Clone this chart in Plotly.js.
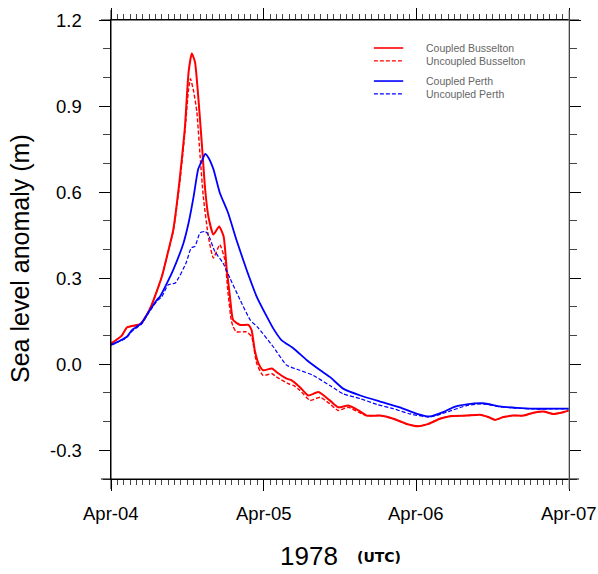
<!DOCTYPE html>
<html>
<head>
<meta charset="utf-8">
<script src="https://cdn.plot.ly/plotly-3.0.1.min.js"></script>
<style>html,body{margin:0;padding:0;background:#fff;}#chart{width:598px;height:574px;}</style>
</head>
<body>
<div id="chart"></div>
<script>
// Hours since 1978-04-04 00:00 UTC
var busCoupledHours = [0, 1.7, 2.5, 3.5, 4.6, 5.3, 6.4, 8.0, 8.8, 9.8, 10.8, 11.6, 12.2, 12.7, 13.2, 13.7, 14.3, 14.8, 15.3, 16.1, 17.0, 17.7, 18.2, 18.7, 19.2, 20.3, 21.6, 22.1, 22.6, 23.2, 23.9, 25.3, 26.0, 27.6, 28.4, 29.7, 31.0, 32.6, 34.4, 35.7, 37.3, 38.9, 40.2, 42.3, 44.4, 46.5, 48.3, 49.9, 51.7, 53.3, 55.9, 58.0, 59.3, 60.4, 61.7, 63.2, 64.8, 66.4, 68.0, 69.5, 71.1, 72];
var busCoupled = [0.072, 0.100, 0.128, 0.134, 0.140, 0.160, 0.207, 0.306, 0.376, 0.470, 0.645, 0.820, 1.019, 1.083, 1.054, 0.937, 0.762, 0.610, 0.516, 0.452, 0.480, 0.446, 0.330, 0.236, 0.154, 0.137, 0.137, 0.119, 0.049, 0.002, -0.021, -0.015, -0.027, -0.050, -0.056, -0.080, -0.109, -0.097, -0.126, -0.150, -0.144, -0.161, -0.179, -0.179, -0.190, -0.208, -0.216, -0.208, -0.190, -0.181, -0.179, -0.176, -0.184, -0.194, -0.184, -0.179, -0.179, -0.169, -0.165, -0.173, -0.167, -0.161];

var busUncoupledHours = [0, 1.7, 2.5, 3.5, 4.6, 5.3, 6.4, 8.0, 8.8, 9.8, 10.8, 11.6, 12.2, 12.5, 13.0, 13.5, 14.0, 14.5, 15.3, 16.1, 17.1, 17.9, 18.4, 18.9, 19.2, 19.7, 21.3, 22.1, 22.9, 23.9, 25.3, 26.0, 27.9, 28.7, 29.7, 31.3, 32.9, 34.4, 35.7, 37.3, 38.9, 40.2, 42.3, 44.4, 46.5, 48.3, 49.9, 51.7, 53.3, 55.9, 58.0, 59.3, 60.4, 61.7, 63.2, 64.8, 66.4, 68.0, 69.5, 71.1, 72];
var busUncoupled = [0.072, 0.100, 0.128, 0.134, 0.140, 0.160, 0.207, 0.306, 0.376, 0.465, 0.630, 0.805, 0.960, 0.995, 0.950, 0.879, 0.727, 0.586, 0.446, 0.370, 0.417, 0.364, 0.248, 0.154, 0.131, 0.113, 0.113, 0.096, 0.003, -0.039, -0.033, -0.044, -0.068, -0.074, -0.091, -0.126, -0.115, -0.138, -0.161, -0.150, -0.167, -0.179, -0.179, -0.190, -0.208, -0.216, -0.208, -0.190, -0.181, -0.179, -0.176, -0.184, -0.194, -0.184, -0.179, -0.179, -0.169, -0.165, -0.173, -0.167, -0.161];

var perCoupledHours = [0, 1.4, 2.5, 3.3, 4.8, 5.8, 7.2, 7.7, 8.8, 9.8, 11.4, 12.2, 13.0, 13.7, 14.3, 14.8, 15.3, 16.1, 17.1, 18.4, 19.7, 21.3, 22.9, 24.5, 25.5, 26.8, 28.7, 30.8, 32.9, 34.4, 36.5, 39.2, 42.3, 45.4, 48.1, 50.1, 52.2, 53.8, 55.9, 58.5, 61.1, 63.8, 66.4, 69.0, 72];
var perCoupled = [0.067, 0.082, 0.096, 0.119, 0.143, 0.178, 0.224, 0.236, 0.283, 0.330, 0.423, 0.493, 0.586, 0.680, 0.709, 0.733, 0.721, 0.680, 0.598, 0.528, 0.435, 0.330, 0.236, 0.166, 0.125, 0.084, 0.055, 0.014, -0.021, -0.044, -0.085, -0.109, -0.130, -0.150, -0.173, -0.182, -0.167, -0.150, -0.140, -0.136, -0.147, -0.152, -0.155, -0.155, -0.155];

var perUncoupledHours = [0, 1.4, 2.5, 3.3, 4.8, 5.8, 7.2, 8.0, 9.0, 10.1, 11.8, 12.6, 13.2, 14.0, 14.8, 15.3, 16.3, 17.6, 18.7, 20.3, 21.9, 23.0, 25.5, 27.6, 29.7, 31.8, 34.4, 36.5, 39.2, 41.8, 44.4, 47.0, 50.1, 52.8, 55.9, 58.5, 61.1, 63.8, 66.4, 69.0, 72];
var perUncoupled = [0.067, 0.080, 0.094, 0.115, 0.140, 0.175, 0.220, 0.236, 0.277, 0.283, 0.353, 0.405, 0.411, 0.458, 0.463, 0.452, 0.394, 0.353, 0.300, 0.224, 0.154, 0.130, 0.061, -0.003, -0.021, -0.039, -0.074, -0.103, -0.120, -0.140, -0.155, -0.173, -0.184, -0.167, -0.144, -0.138, -0.148, -0.153, -0.156, -0.156, -0.156];

var seriesNames = ["Coupled Busselton", "Uncoupled Busselton", "Coupled Perth", "Uncoupled Perth"];
var xTickVals = [0, 24, 48, 72];
var xTickText = ["Apr-04", "Apr-05", "Apr-06", "Apr-07"];
var yTickVals = [-0.3, 0.0, 0.3, 0.6, 0.9, 1.2];
var yTickText = ["-0.3", "0.0", "0.3", "0.6", "0.9", "1.2"];
var xTitleMain = "1978";
var xTitleUnit = "(UTC)";
var yTitle = "Sea level anomaly (m)";

var xs = [busCoupledHours, busUncoupledHours, perCoupledHours, perUncoupledHours];
var ys = [busCoupled, busUncoupled, perCoupled, perUncoupled];
var colors = ["#ff0000", "#ff0000", "#0000ff", "#0000ff"];
var dashes = ["solid", "4px,2px", "solid", "4px,2px"];
var widths = [2, 1.4, 1.8, 1.2];

var traces = [];
for (var i = 0; i < 4; i++) {
  traces.push({
    x: xs[i], y: ys[i], name: seriesNames[i], type: "scatter", mode: "lines",
    line: {color: colors[i], dash: dashes[i], width: widths[i], shape: "spline", smoothing: 0.5},
    showlegend: false, hoverinfo: "skip"
  });
}

var FONT = "Liberation Sans, Arial, Helvetica, sans-serif";
var plotW = 458, plotH = 459;
var ext = 10;
var shapes = [
  {type: "line", xref: "paper", yref: "paper", x0: -ext/plotW, x1: 1 + ext/plotW, y0: 1, y1: 1, line: {color: "#000", width: 1}},
  {type: "line", xref: "paper", yref: "paper", x0: -ext/plotW, x1: 1 + ext/plotW, y0: 0, y1: 0, line: {color: "#000", width: 1}},
  {type: "line", xref: "paper", yref: "paper", x0: 0, x1: 0, y0: -ext/plotH, y1: 1 + ext/plotH, line: {color: "#000", width: 1}},
  {type: "line", xref: "paper", yref: "paper", x0: 1, x1: 1, y0: -ext/plotH, y1: 1 + ext/plotH, line: {color: "#888", width: 1}}
];
var annotations = [];
var legRowY = [0.939, 0.911, 0.867, 0.839];
for (var k = 0; k < 4; k++) {
  shapes.push({type: "line", xref: "paper", yref: "paper", x0: 0.574, x1: 0.638, y0: legRowY[k], y1: legRowY[k],
    line: {color: colors[k], width: k % 2 === 0 ? 1.6 : 1.2, dash: dashes[k]}});
  annotations.push({xref: "paper", yref: "paper", x: 0.683, y: legRowY[k], xanchor: "left", yanchor: "middle",
    text: seriesNames[k], showarrow: false, font: {family: FONT, size: 10.5, color: "#666"}});
}
// tick labels placed on the axes' own scales
for (var a = 0; a < yTickVals.length; a++) {
  annotations.push({xref: "paper", yref: "y", x: -0.06, y: yTickVals[a], xanchor: "right", yanchor: "middle",
    text: yTickText[a], showarrow: false, font: {family: FONT, size: 18.5, color: "#000"}});
}
for (var b = 0; b < xTickVals.length; b++) {
  annotations.push({xref: "x", yref: "paper", x: xTickVals[b], y: -0.076, xanchor: "center", yanchor: "middle",
    text: xTickText[b], showarrow: false, font: {family: FONT, size: 18.5, color: "#000"}});
}
annotations.push({xref: "paper", yref: "paper", x: 0.4323, y: -0.168, xanchor: "center", yanchor: "middle",
  text: xTitleMain, showarrow: false, font: {family: FONT, size: 26, color: "#000"}});
annotations.push({xref: "paper", yref: "paper", x: 0.532, y: -0.170, xanchor: "left", yanchor: "middle",
  text: "<b>" + xTitleUnit + "</b>", showarrow: false, font: {family: "DejaVu Sans, sans-serif", size: 14, color: "#000"}});
annotations.push({xref: "paper", yref: "paper", x: -0.1987, y: 0.4815, xanchor: "center", yanchor: "middle", textangle: -90,
  text: yTitle, showarrow: false, font: {family: FONT, size: 25, color: "#000"}});

var layout = {
  width: 598, height: 574,
  margin: {l: 111, r: 29, t: 20, b: 95, pad: 0},
  paper_bgcolor: "#fff", plot_bgcolor: "#fff",
  font: {family: FONT, color: "#000"},
  showlegend: false,
  xaxis: {
    range: [0, 72], tickmode: "array", tickvals: xTickVals, showticklabels: false,
    ticks: "outside", ticklen: 11, tickwidth: 1, tickcolor: "#000",
    showline: true, linecolor: "#000", linewidth: 1, mirror: "allticks",
    showgrid: false, zeroline: false,
    minor: {tick0: 0, dtick: 1, ticks: "outside", ticklen: 5, tickcolor: "#444", tickwidth: 1, showgrid: false}
  },
  yaxis: {
    range: [-0.4, 1.2], tickmode: "array", tickvals: yTickVals, showticklabels: false,
    ticks: "outside", ticklen: 11, tickwidth: 1, tickcolor: "#000",
    showline: true, linecolor: "#000", linewidth: 1, mirror: "allticks",
    showgrid: false, zeroline: false,
    minor: {tick0: 0, dtick: 0.1, ticks: "outside", ticklen: 7, tickcolor: "#444", tickwidth: 1, showgrid: false}
  },
  shapes: shapes,
  annotations: annotations
};

Plotly.newPlot("chart", traces, layout, {staticPlot: true, displayModeBar: false});
</script>
</body>
</html>
